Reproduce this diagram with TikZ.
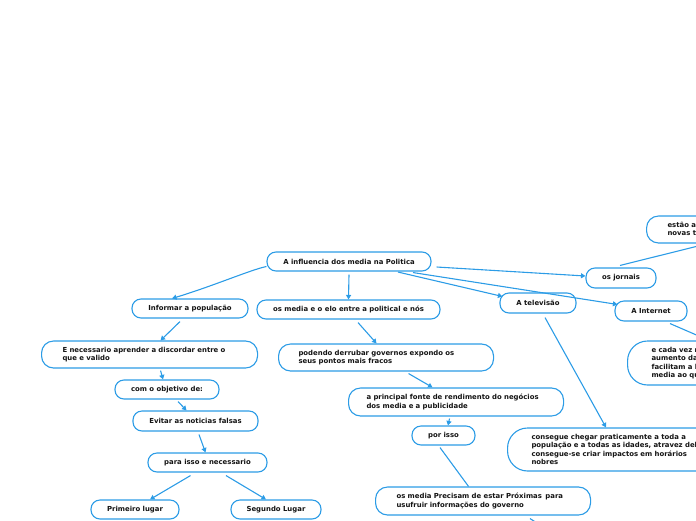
\documentclass[tikz,border=0pt]{standalone}
\usepackage{fontspec}
\setmainfont{DejaVu Sans}
\usetikzlibrary{arrows.meta}
\definecolor{mblue}{HTML}{2C9CE6}
\definecolor{mtext}{HTML}{141414}
\tikzset{
  box/.style={draw=mblue, line width=1.1pt, fill=white, rounded corners=9pt,
    font=\fontsize{6.9}{8.2}\selectfont\bfseries, text=mtext, inner sep=0pt},
  sbox/.style={box, minimum height=19pt},
  mbox/.style={box, align=left, anchor=west, inner xsep=21pt, text width=173pt, rounded corners=12pt},
  conn/.style={draw=mblue, line width=1.1pt, -{Triangle[length=4.5pt,width=5pt]}},
  plain/.style={draw=mblue, line width=1.1pt}
}
\begin{document}
\begin{tikzpicture}[x=1pt,y=-1pt]
\useasboundingbox (0,0) rectangle (696,520);
\clip (0,0) rectangle (696,520);
% nodes
\node[sbox, minimum width=164pt] (root) at (349,261.5) {A influencia dos media na Politica};
\node[sbox, minimum width=116pt] (inform) at (190,308.5) {Informar a população};
\node[sbox, minimum width=183pt] (elo) at (348.5,309.5) {os media e o elo entre a political e nós};
\node[mbox, minimum height=27pt, text width=174pt] (neces) at (41,354.5) {E necessario aprender a discordar entre o\\que e valido};
\node[sbox, minimum width=104pt] (objetivo) at (167,389.5) {com o objetivo de:};
\node[sbox, minimum width=125pt, minimum height=20pt] (evitar) at (195.5,421) {Evitar as noticias falsas};
\node[sbox, minimum width=119pt] (paraisso) at (207.5,462.5) {para isso e necessario};
\node[sbox, minimum width=88pt] (primeiro) at (135,509.5) {Primeiro lugar};
\node[sbox, minimum width=90pt] (segundo) at (276,509.5) {Segundo Lugar};
\node[mbox, minimum height=27pt, inner xsep=20pt, text width=175pt] (podendo) at (278,357.5) {podendo derrubar governos expondo os\\seus pontos mais fracos};
\node[mbox, minimum height=28pt, inner xsep=18pt, text width=179pt] (principal) at (348,402) {a principal fonte de rendimento do negócios\\dos media e a publicidade};
\node[sbox, minimum width=63pt] (porisso) at (443.5,435.5) {por isso};
\node[mbox, minimum height=28pt] (precisam) at (375,501) {os media Precisam de estar Próximas\enspace para\\usufruir informações do governo};
\node[sbox, minimum width=70pt, minimum height=20pt] (jornais) at (621,278) {os jornais};
\node[sbox, minimum width=76pt, minimum height=20pt] (televisao) at (538,303) {A televisão};
\node[sbox, minimum width=72pt, minimum height=20pt] (internet) at (651,311) {A Internet};
\node[mbox, minimum height=27pt] (estao) at (646,229.5) {estão a adaptar-se às\\novas tecnologias};
\node[mbox, minimum height=44pt, inner xsep=24pt, text width=180pt, rounded corners=20pt] (cadavez) at (627,363) {e cada vez mais há um\\aumento das redes que\\facilitam a ligação dos\\media ao quotidiano};
\node[mbox, minimum height=43pt, inner xsep=24pt, text width=205pt, rounded corners=20pt] (consegue) at (507,449.5) {consegue chegar praticamente a toda a\\população e a todas as idades, atravez dela\\consegue-se criar impactos em horários\\nobres};
\coordinate (below) at (548,530);
% connectors
\draw[conn] ([yshift=-5pt]root.west) .. controls +(-15,3) and +(40,-12) .. ([xshift=-18pt]inform.north);
\draw[conn] ([yshift=-3pt]root.south) -- (elo.north);
\draw[conn] ([shift={(5,5.5)}]root.east) -- ([shift={(0,-2)}]jornais.west);
\draw[conn] ([shift={(49,0.5)}]root.south) -- ([shift={(3,4)}]televisao.north west);
\draw[conn] ([shift={(64,1)}]root.south) -- ([shift={(3,4)}]internet.north west);
\draw[conn] ([shift={(-10,3)}]inform.south) -- ([xshift=11pt]neces.north);
\draw[conn] ([shift={(11,2)}]neces.south) -- ([xshift=-4pt]objetivo.north);
\draw[conn] ([shift={(11,2)}]objetivo.south) -- ([xshift=-9pt]evitar.north);
\draw[conn] ([shift={(3.5,3)}]evitar.south) -- ([xshift=-2pt]paraisso.north);
\draw[conn] ([shift={(-17,3)}]paraisso.south) -- ([xshift=15pt]primeiro.north);
\draw[conn] ([shift={(18.5,3)}]paraisso.south) -- ([xshift=-10pt]segundo.north);
\draw[conn] ([shift={(9.5,3)}]elo.south) -- ([xshift=-9.5pt]podendo.north);
\draw[conn] ([shift={(22.5,2)}]podendo.south) -- ([xshift=-23.5pt]principal.north);
\draw[conn] ([shift={(-6.5,2)}]principal.south) -- ([xshift=4.5pt]porisso.north);
\draw[plain] ([shift={(-3.5,2)}]porisso.south) -- ([xshift=-14.5pt]precisam.north);
\draw[plain] ([shift={(155,3)}]precisam.south west) -- (below);
\draw[conn] ([shift={(7,4)}]televisao.south) -- ([xshift=99pt]consegue.north west);
\draw[conn] ([shift={(19,2)}]internet.south) -- ([xshift=82pt]cadavez.north west);
\draw[conn] ([shift={(-1,-2)}]jornais.north) -- ([xshift=62pt]estao.south west);
\end{tikzpicture}
\end{document}
